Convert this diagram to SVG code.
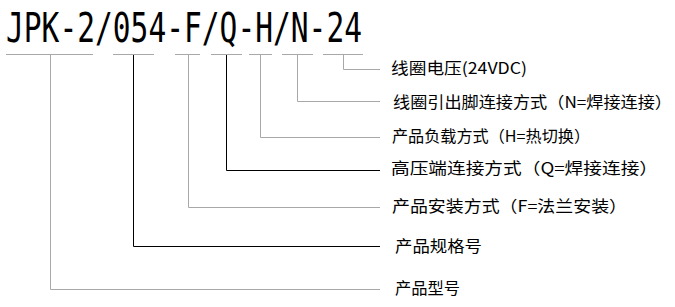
<svg xmlns="http://www.w3.org/2000/svg" width="675" height="307" viewBox="0 0 675 307">
<style>
.t{font-family:"DejaVu Sans Mono","Liberation Mono",monospace;font-size:41px;fill:#000}
.l{font-family:"Noto Sans CJK SC","Noto Sans",sans-serif;font-size:16px;fill:#000}
.g{stroke:#a8a8a8;stroke-width:1;fill:none}
.k{stroke:#000;stroke-width:1;fill:none}
</style>
<rect width="675" height="307" fill="#fff"/>
<g id="title"><text class="t" x="6" y="42" textLength="356" lengthAdjust="spacingAndGlyphs">JPK-2/054-F/Q-H/N-24</text></g>
<g id="connectors">
<path class="g" d="M6 54.5H93M113 54.5H154M175 54.5H200M211 54.5H242M249 54.5H272M282 54.5H313M323 54.5H363"/>
<path class="g" d="M343.5 55V69.5H380"/>
<path class="g" d="M297.5 55V101.5H380"/>
<path class="g" d="M260.5 55V137.5H380"/>
<path class="k" d="M226.5 55V170.5H380"/>
<path class="g" d="M188.5 55V207.5H380"/>
<path class="k" d="M133.5 55V246.5H380"/>
<path class="g" d="M50.5 55V289.5H380"/>
</g>
<g id="n1"><text class="l" x="391" y="74" textLength="136" lengthAdjust="spacingAndGlyphs">线圈电压(24VDC)</text></g>
<g id="n2"><text class="l" x="393" y="108" textLength="279" lengthAdjust="spacingAndGlyphs">线圈引出脚连接方式（N=焊接连接）</text></g>
<g id="n3"><text class="l" x="392" y="142" textLength="198" lengthAdjust="spacingAndGlyphs">产品负载方式（H=热切换）</text></g>
<g id="n4"><text class="l" x="391" y="174" textLength="267" lengthAdjust="spacingAndGlyphs">高压端连接方式（Q=焊接连接）</text></g>
<g id="n5"><text class="l" x="392" y="212" textLength="235" lengthAdjust="spacingAndGlyphs">产品安装方式（F=法兰安装）</text></g>
<g id="n6"><text class="l" x="395" y="252" textLength="87" lengthAdjust="spacingAndGlyphs">产品规格号</text></g>
<g id="n7"><text class="l" x="395" y="294" textLength="65" lengthAdjust="spacingAndGlyphs">产品型号</text></g>
</svg>
